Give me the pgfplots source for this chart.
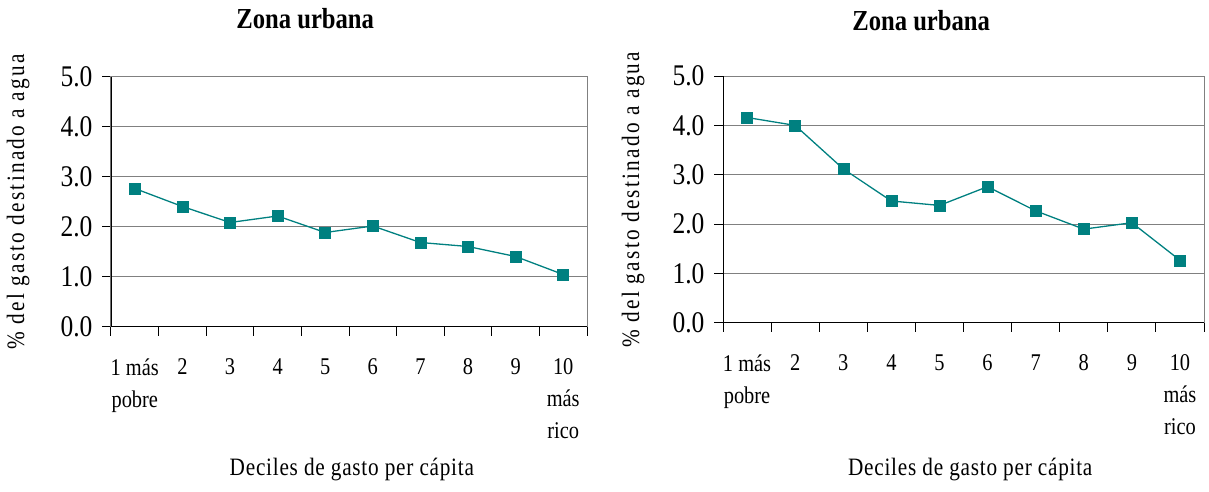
\documentclass[border=0pt]{standalone}
\usepackage{pgfplots}
\pgfplotsset{compat=1.18}
\usepackage{fontspec}
\setmainfont{Liberation Serif}[FakeStretch=0.85]
\definecolor{tealc}{HTML}{008080}
\definecolor{gridc}{HTML}{808080}

\pgfplotsset{
  decstyle/.style={
    scale only axis,
    anchor=south west,
    xmin=0.5, xmax=10.5,
    ymin=0, ymax=5,
    xtick={0.5,1.5,...,10.5},
    x tick label as interval,
    xticklabels={{1 más\\pobre},2,3,4,5,6,7,8,9,{10\\más\\rico}},
    ytick={0,1,2,3,4,5},
    yticklabel style={/pgf/number format/fixed,/pgf/number format/precision=1,/pgf/number format/fixed zerofill},
    /pgf/number format/assume math mode=true,
    tick align=outside,
    xtick pos=bottom, ytick pos=left,
    major tick length=9pt,
    major tick style={black, line width=1pt},
    axis line style={draw=gridc, line width=1pt},
    ymajorgrids,
    grid style={draw=gridc, line width=1pt},
    y tick label style={font=\fontsize{30}{30}\selectfont, xshift=-6pt},
    x tick label style={font=\fontsize{24}{32}\selectfont, align=center, anchor=north, yshift=-19pt},
    title style={font=\bfseries\fontsize{29}{30}\selectfont, anchor=center},
    xlabel style={font=\addfontfeature{LetterSpace=3}\fontsize{25}{28}\selectfont, anchor=center},
    ylabel style={font=\addfontfeature{LetterSpace=9}\fontsize{25}{28}\selectfont, anchor=center, rotate=0},
  },
  decplot/.style={color=tealc, line width=1.3pt, mark=square*, mark size=5.5pt, mark options={fill=tealc, draw=tealc, line width=0.5pt, solid}},
}

\begin{document}
\begin{tikzpicture}[x=1pt,y=1pt]
\useasboundingbox (0,0) rectangle (1209,492);
\begin{axis}[decstyle,
  at={(111pt,165pt)}, width=476pt, height=250pt,
  title={Zona urbana},
  title style={at={(axis description cs:0.408,1.208)}},
  xlabel={Deciles de gasto per cápita},
  xlabel style={at={(axis description cs:0.506,-0.572)}},
  ylabel={\% del gasto destinado a agua},
  ylabel style={at={(axis description cs:-0.195,0.5)}},
]
\addplot[decplot] coordinates {(1,2.77) (2,2.41) (3,2.09) (4,2.22) (5,1.89) (6,2.02) (7,1.69) (8,1.61) (9,1.41) (10,1.05)};
\draw[black, line width=1.3pt] (rel axis cs:0,1) -- (rel axis cs:0,0) -- (rel axis cs:1,0);
\end{axis}
\begin{axis}[decstyle,
  at={(723pt,169pt)}, width=481pt, height=247pt,
  title={Zona urbana},
  title style={at={(axis description cs:0.412,1.198)}},
  xlabel={Deciles de gasto per cápita},
  xlabel style={at={(axis description cs:0.514,-0.595)}},
  ylabel={\% del gasto destinado a agua},
  ylabel style={at={(axis description cs:-0.187,0.5)}},
]
\addplot[decplot] coordinates {(1,4.16) (2,4.00) (3,3.12) (4,2.47) (5,2.38) (6,2.76) (7,2.27) (8,1.90) (9,2.03) (10,1.27)};
\draw[black, line width=1.3pt] (rel axis cs:0,1) -- (rel axis cs:0,0) -- (rel axis cs:1,0);
\end{axis}
\end{tikzpicture}
\end{document}
